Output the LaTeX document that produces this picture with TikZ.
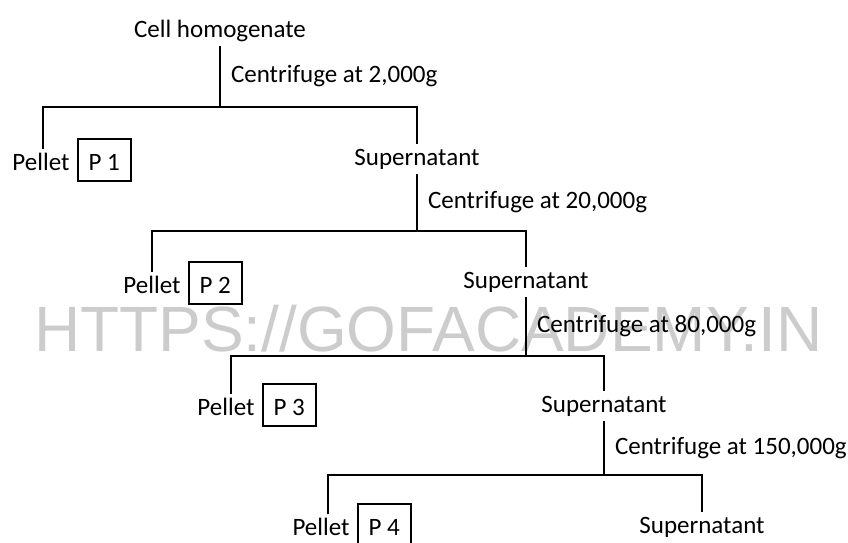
\documentclass[tikz,border=0pt]{standalone}
\usepackage{fontspec}
\setmainfont{Carlito}
\newfontfamily\wmfont{Liberation Sans}
\usetikzlibrary{positioning}

\begin{document}
\begin{tikzpicture}[x=1pt, y=-1pt, line width=2pt,
  lbl/.style = {font=\fontsize{25}{30}\selectfont, text height=17pt, text depth=5pt, inner sep=3pt},
  pbox/.style = {lbl, draw, line width=2.2pt, text height=21pt, text depth=1pt, inner ysep=10pt, inner xsep=11pt, anchor=base west}]
  \useasboundingbox (0,0) rectangle (848,542);
  \node[font=\wmfont\fontsize{64}{70}\selectfont, text=black!20, anchor=base west, inner sep=0] (wm) at (33,351) {HTTPS://GOFACADEMY.IN};

  % first spin
  \node[lbl, anchor=base] (hom) at (220,37) {Cell homogenate};
  \coordinate (b1) at (220,107);
  \draw (hom.south) -- node[lbl, right=7pt]{Centrifuge at 2,000g} (b1);
  \node[lbl, anchor=base] (pel1) at (41,170) {Pellet};
  \node[pbox] (p1) at ([xshift=3pt]pel1.base east) {P 1};
  \node[lbl, anchor=base] (sup1) at (417,165) {Supernatant};
  \draw ([xshift=2pt]pel1.north) |- (b1) -| (sup1.north);

  % second spin
  \coordinate (b2) at (417,231);
  \draw (sup1.south) -- node[lbl, right=7pt]{Centrifuge at 20,000g} (b2);
  \node[lbl, anchor=base] (pel2) at (152,293) {Pellet};
  \node[pbox] (p2) at ([xshift=3pt]pel2.base east) {P 2};
  \node[lbl, anchor=base] (sup2) at (526,288) {Supernatant};
  \draw (pel2.north) |- (b2) -| (sup2.north);

  % third spin
  \coordinate (b3) at (526,356);
  \draw (sup2.south) -- node[lbl, right=7pt]{Centrifuge at 80,000g} (b3);
  \node[lbl, anchor=base] (pel3) at (226,415) {Pellet};
  \node[pbox] (p3) at ([xshift=3pt]pel3.base east) {P 3};
  \node[lbl, anchor=base] (sup3) at (604,412) {Supernatant};
  \draw ([xshift=5pt]pel3.north) |- (b3) -| (sup3.north);

  % fourth spin
  \coordinate (b4) at (604,475);
  \draw (sup3.south) -- node[lbl, right=7pt]{Centrifuge at 150,000g} (b4);
  \node[lbl, anchor=base] (pel4) at (321,535) {Pellet};
  \node[pbox] (p4) at ([xshift=3pt]pel4.base east) {P 4};
  \node[lbl, anchor=base] (sup4) at (702,533) {Supernatant};
  \draw ([xshift=7pt]pel4.north) |- (b4) -| (sup4.north);
\end{tikzpicture}
\end{document}
